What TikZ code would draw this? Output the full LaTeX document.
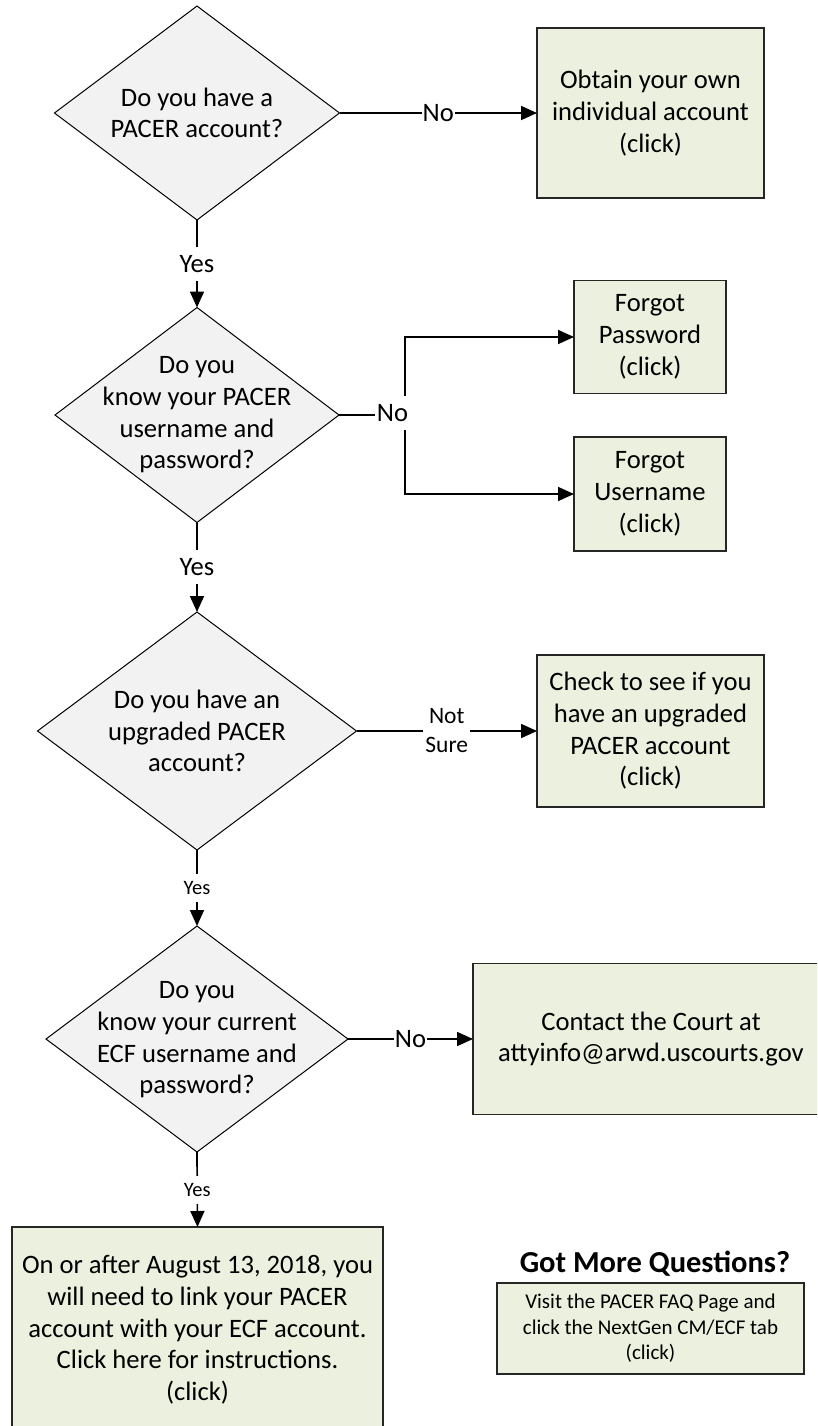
\documentclass[tikz,border=0pt]{standalone}
\usepackage{fontspec}
\setmainfont{Carlito}
\usetikzlibrary{shapes.geometric,arrows.meta}
\definecolor{qfill}{HTML}{F2F2F2}
\definecolor{bfill}{HTML}{EBF1DE}
\definecolor{bline}{HTML}{262626}
\newcommand{\fcmain}{\fontsize{26.6}{31.7}\selectfont}
\newcommand{\fcmid}{\fontsize{23.5}{29}\selectfont}
\newcommand{\fcsmall}{\fontsize{20.5}{24}\selectfont}
\newcommand{\fcfaq}{\fontsize{21}{25.5}\selectfont}
\newcommand{\fcbig}{\fontsize{30.5}{35}\selectfont\bfseries}
\tikzset{
  decision/.style={diamond, draw=black, line width=1pt, fill=qfill,
    inner sep=0pt, outer sep=0pt},
  qtext/.style={align=center, font=\fcmain, inner sep=0pt},
  actbox/.style={rectangle, draw=bline, line width=1.5pt, fill=bfill,
    align=center, font=\fcmain, inner sep=0pt, outer sep=0pt},
  faqbox/.style={actbox, font=\fcfaq},
  conn/.style={line width=1.7pt, -{Triangle[length=16pt,width=14pt]}},
  plainline/.style={line width=1.7pt},
  elabel/.style={fill=white, inner xsep=1pt, inner ysep=0pt, minimum height=34pt, font=\fcmain},
  slabel/.style={fill=white, inner xsep=1pt, inner ysep=0pt, minimum height=28pt, font=\fcsmall},
  mlabel/.style={fill=white, inner xsep=2pt, inner ysep=1pt, align=center, font=\fcmid},
}
\begin{document}
\begin{tikzpicture}[x=1pt,y=-1pt]
\useasboundingbox (0,0) rectangle (817,1426);
\clip (0,0) rectangle (817,1426);

% decisions
\node[decision, minimum width=285pt, minimum height=214pt] (d1) at (197,113) {};
\node[qtext] (t1) at (197,113) {Do you have a\\PACER account?};

\node[decision, minimum width=284pt, minimum height=215pt] (d2) at (197,415) {};
\node[qtext] (t2) at (197,415) {Do you\\know your PACER\\username and\\password?};

\node[decision, minimum width=319pt, minimum height=238pt] (d3) at (197,731) {};
\node[qtext] (t3) at (197,731) {Do you have an\\upgraded PACER\\account?};

\node[decision, minimum width=302pt, minimum height=226pt] (d4) at (197,1039) {};
\node[qtext] (t4) at (197,1040) {Do you\\know your current\\ECF username and\\password?};

% action boxes
\node[actbox, minimum width=227pt, minimum height=170pt] (b1) at (650.5,113)
  {Obtain your own\\individual account\\(click)};
\node[actbox, minimum width=152pt, minimum height=113pt] (fp) at (650,337)
  {Forgot\\Password\\(click)};
\node[actbox, minimum width=152pt, minimum height=114pt] (fu) at (650,494)
  {Forgot\\Username\\(click)};
\node[actbox, minimum width=227pt, minimum height=152pt] (b3) at (650.5,731)
  {Check to see if you\\have an upgraded\\PACER account\\(click)};
\node[actbox, minimum width=356pt, minimum height=151pt] (b4) at (651,1039)
  {Contact the Court at\\attyinfo@arwd.uscourts.gov};
\node[actbox, minimum width=371pt, minimum height=206pt] (b5) at (197.5,1330)
  {On or after August 13, 2018, you\\will need to link your PACER\\account with your ECF account.\\Click here for instructions.\\(click)};
\node[faqbox, minimum width=307pt, minimum height=91pt] (b6) at (650.5,1328.5)
  {Visit the PACER FAQ Page and\\click the NextGen CM/ECF tab\\(click)};
\node[font=\fcbig, inner sep=0pt] (gmq) at (655,1264) {Got More Questions?};

% connectors
\draw[conn] (d1.east) -- node[elabel, midway] {No} (b1.west);
\draw[conn] (d1.south) -- node[elabel, midway] {Yes} (d2.north);

\coordinate (j2) at (405,415);
\draw[plainline] (d2.east) -- (j2);
\draw[conn] (j2) |- (fp.west);
\draw[conn] (j2) |- (fu.west);
\node[elabel, inner xsep=2pt] (no2) at (392.5,413) {No};

\draw[conn] (d2.south) -- node[elabel, midway] {Yes} (d3.north);
\draw[conn] (d3.east) -- node[mlabel, midway] {Not\\Sure} (b3.west);
\draw[conn] (d3.south) -- node[slabel, midway] {Yes} (d4.north);
\draw[conn] (d4.east) -- node[elabel, midway] {No} (b4.west);
\draw[conn] (d4.south) -- node[slabel, midway] {Yes} (b5.north);
\end{tikzpicture}
\end{document}
